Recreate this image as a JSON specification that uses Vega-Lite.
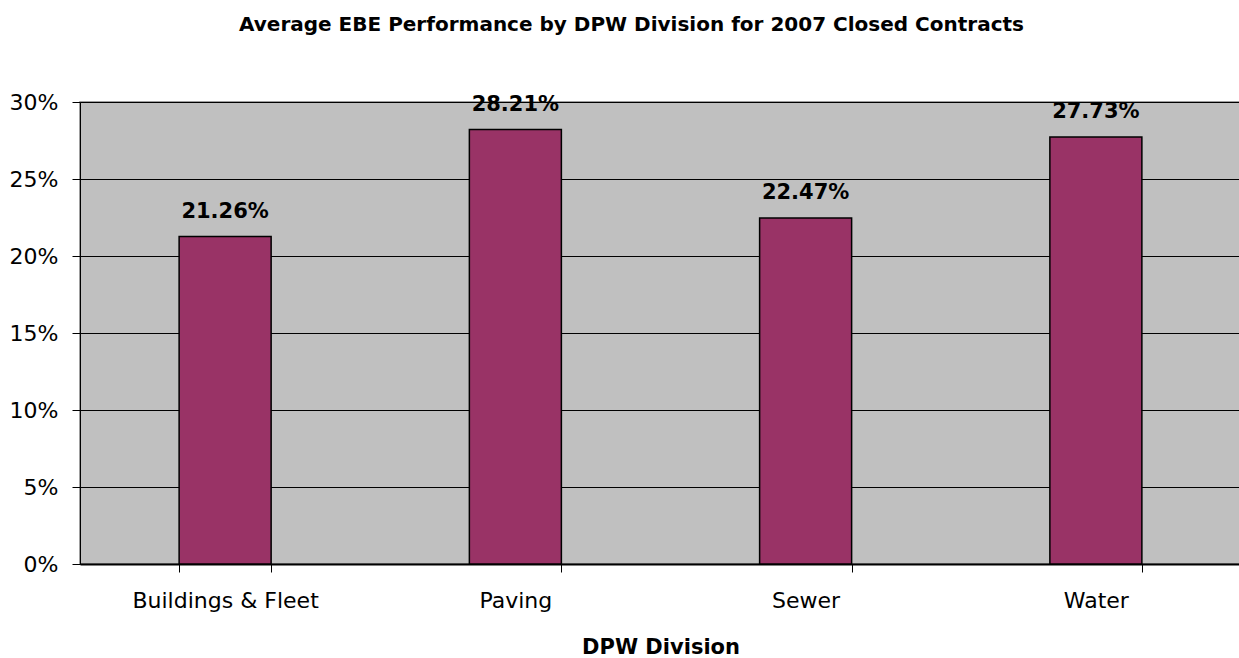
{
  "$schema": "https://vega.github.io/schema/vega-lite/v6.json",
  "autosize": {"type": "none"},
  "width": 1161,
  "height": 462,
  "padding": {"left": 80, "top": 102, "right": 0, "bottom": 94},
  "background": "white",
  "title": {
    "text": "Average EBE Performance by DPW Division for 2007 Closed Contracts",
    "font": "DejaVu Sans",
    "fontSize": 20,
    "fontWeight": "bold",
    "color": "black",
    "anchor": "middle",
    "dx": -29,
    "offset": 56
  },
  "config": {
    "view": {"fill": "#C0C0C0", "stroke": "#808080", "strokeWidth": 1.5},
    "axis": {
      "labelFont": "DejaVu Sans",
      "titleFont": "DejaVu Sans",
      "labelColor": "black",
      "titleColor": "black",
      "domainColor": "black",
      "tickColor": "black"
    }
  },
  "data": {
    "values": [
      {"division": "Buildings & Fleet", "value": 0.2126},
      {"division": "Paving", "value": 0.2821},
      {"division": "Sewer", "value": 0.2247},
      {"division": "Water", "value": 0.2773}
    ]
  },
  "encoding": {
    "x": {
      "field": "division",
      "type": "nominal",
      "sort": null,
      "scale": {"paddingInner": 0.683, "paddingOuter": 0.3415},
      "axis": {
        "title": "DPW Division",
        "titleFontSize": 21,
        "titleFontWeight": "bold",
        "titlePadding": 25,
        "labelAngle": 0,
        "labelFontSize": 22,
        "labelPadding": 18,
        "labelLimit": 0,
        "tickSize": 8,
        "tickBand": "extent",
        "domainWidth": 2,
        "grid": false
      }
    },
    "y": {
      "field": "value",
      "type": "quantitative",
      "scale": {"domain": [0, 0.3], "nice": false},
      "axis": {
        "title": null,
        "format": ".0%",
        "values": [0, 0.05, 0.1, 0.15, 0.2, 0.25, 0.3],
        "labelFontSize": 22,
        "labelPadding": 14,
        "tickSize": 8,
        "grid": true,
        "gridColor": "black",
        "gridWidth": 1,
        "gridOpacity": 1
      }
    }
  },
  "layer": [
    {
      "mark": {"type": "bar", "color": "#993366", "stroke": "black", "strokeWidth": 1.5}
    },
    {
      "mark": {
        "type": "text",
        "font": "DejaVu Sans",
        "fontSize": 21,
        "fontWeight": "bold",
        "color": "black",
        "baseline": "alphabetic",
        "dy": -19
      },
      "encoding": {
        "text": {"field": "value", "type": "quantitative", "format": ".2%"}
      }
    }
  ]
}
